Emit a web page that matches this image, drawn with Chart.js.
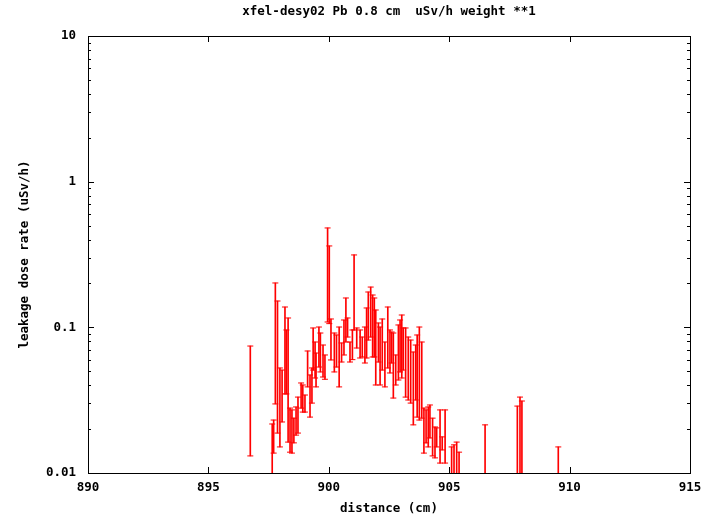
<!DOCTYPE html>
<html><head><meta charset="utf-8">
<script src="https://cdn.jsdelivr.net/npm/chart.js@4/dist/chart.umd.min.js"></script>
<style>html,body{margin:0;padding:0;background:#fff}#wrap{width:701px;height:518px;position:relative}</style>
</head><body><div id="wrap"><canvas id="c"></canvas></div>
<script>
const titleText = 'xfel-desy02 Pb 0.8 cm  uSv/h weight **1';
const xTitle = 'distance (cm)';
const yTitle = 'leakage dose rate (uSv/h)';
const xTicks = [890, 895, 900, 905, 910, 915];
const yTicks = [10, 1, 0.1, 0.01];
const yTickLabels = ['10', '1', '0.1', '0.01'];

// distance (cm) of each error bar
const positions = [
  896.74, 897.65, 897.71, 897.78, 897.87, 897.97, 898.06, 898.18, 898.24, 898.31,
  898.39, 898.47, 898.55, 898.64, 898.72, 898.85, 898.92, 899.01, 899.12, 899.22,
  899.30, 899.35, 899.43, 899.47, 899.59, 899.65, 899.76, 899.84, 899.95, 900.02,
  900.09, 900.23, 900.32, 900.43, 900.53, 900.63, 900.71, 900.78, 900.88, 900.98,
  901.05, 901.16, 901.30, 901.39, 901.50, 901.57, 901.64, 901.74, 901.82, 901.89,
  901.95, 902.06, 902.13, 902.22, 902.33, 902.45, 902.54, 902.61, 902.68, 902.78,
  902.89, 902.96, 903.03, 903.09, 903.19, 903.30, 903.40, 903.51, 903.61, 903.67,
  903.76, 903.86, 903.95, 904.04, 904.13, 904.20, 904.31, 904.41, 904.48, 904.62,
  904.71, 904.83, 905.10, 905.20, 905.31, 905.41, 906.49, 907.83, 907.94, 908.02,
  909.53
];
// lower end of each error bar (uSv/h)
const lows = [
  0.0131, 0.005, 0.0137, 0.0298, 0.0188, 0.0151, 0.0224, 0.0349, 0.0349, 0.0163,
  0.0139, 0.0137, 0.0161, 0.0182, 0.0188, 0.0279, 0.0262, 0.0262, 0.0390, 0.0242,
  0.0302, 0.0509, 0.0449, 0.0390, 0.0534, 0.0494, 0.0456, 0.0440, 0.1088, 0.1060,
  0.0597, 0.0494, 0.0534, 0.0390, 0.0578, 0.0646, 0.0793, 0.0858, 0.0578, 0.0600,
  0.0959, 0.0721, 0.0616, 0.0626, 0.0569, 0.0616, 0.0818, 0.0858, 0.0626, 0.0626,
  0.0402, 0.0578, 0.0402, 0.0509, 0.0390, 0.0526, 0.0486, 0.0569, 0.0327, 0.0402,
  0.0435, 0.0494, 0.0449, 0.0509, 0.0332, 0.0317, 0.0302, 0.0214, 0.0317, 0.0242,
  0.0231, 0.0238, 0.0137, 0.0161, 0.0151, 0.0174, 0.0131, 0.0127, 0.0151, 0.0117,
  0.0144, 0.0117, 0.005, 0.005, 0.005, 0.005, 0.005, 0.005, 0.005, 0.005,
  0.005
];
// upper end of each error bar (uSv/h)
const highs = [
  0.0744, 0.0217, 0.0231, 0.2016, 0.1516, 0.0526, 0.0509, 0.1379, 0.0959, 0.1159,
  0.0279, 0.0271, 0.0238, 0.0284, 0.0332, 0.0415, 0.0402, 0.0343, 0.0688, 0.0471,
  0.0526, 0.0990, 0.0793, 0.0666, 0.1005, 0.0914, 0.0756, 0.0646, 0.4810, 0.3620,
  0.1141, 0.0914, 0.0886, 0.1005, 0.0781, 0.1123, 0.1590, 0.1159, 0.0793, 0.0959,
  0.3140, 0.0990, 0.0959, 0.0858, 0.1005, 0.1358, 0.1748, 0.1890, 0.1667, 0.1590,
  0.1315, 0.1071, 0.1005, 0.1141, 0.0793, 0.1379, 0.0959, 0.0929, 0.0914, 0.0646,
  0.1038, 0.1123, 0.1215, 0.0990, 0.0990, 0.0858, 0.0818, 0.0677, 0.0756, 0.0886,
  0.1005, 0.0793, 0.0279, 0.0271, 0.0284, 0.0293, 0.0238, 0.0207, 0.0204, 0.0271,
  0.0177, 0.0271, 0.0151, 0.0156, 0.0163, 0.0139, 0.0214, 0.0288, 0.0332, 0.0312,
  0.0151
];

const RED = 'rgb(255,0,0)';
const FONT = {family: '"DejaVu Sans Mono", monospace', size: 12.5, weight: 'bold'};

const framePlugin = {
  id: 'frame',
  afterDatasetsDraw(chart) {
    const {ctx, chartArea: a, scales: {x, y}} = chart;
    ctx.save();
    ctx.strokeStyle = '#000';
    ctx.lineWidth = 1;
    ctx.beginPath();
    xTicks.forEach(v => {
      const px = Math.round(x.getPixelForValue(v)) + 0.5;
      ctx.moveTo(px, a.bottom); ctx.lineTo(px, a.bottom - 6);
      ctx.moveTo(px, a.top); ctx.lineTo(px, a.top + 6);
    });
    const minExp = Math.round(Math.log10(y.min)), maxExp = Math.round(Math.log10(y.max));
    for (let e = minExp; e <= maxExp; e++) {
      for (let m = 1; m <= 9; m++) {
        const v = m * Math.pow(10, e);
        if (v > y.max * 1.0001) break;
        const len = m === 1 ? 6 : 3;
        const py = Math.round(y.getPixelForValue(v)) + 0.5;
        ctx.moveTo(a.left, py); ctx.lineTo(a.left + len, py);
        ctx.moveTo(a.right, py); ctx.lineTo(a.right - len, py);
      }
    }
    ctx.stroke();
    ctx.strokeRect(Math.round(a.left) + 0.5, Math.round(a.top) + 0.5,
                   Math.round(a.right - a.left), Math.round(a.bottom - a.top));
    ctx.fillStyle = '#000';
    ctx.font = 'bold 12.5px "DejaVu Sans Mono", monospace';
    ctx.textAlign = 'center';
    ctx.textBaseline = 'middle';
    ctx.fillText(titleText, (a.left + a.right) / 2, 12);
    ctx.restore();
  }
};

new Chart(document.getElementById('c'), {
  type: 'bar',
  data: {
    datasets: [
      {
        type: 'bar',
        data: positions.map((p, i) => ({x: p, y: [lows[i], highs[i]]})),
        backgroundColor: RED,
        borderWidth: 0,
        barThickness: 1,
        clip: 0
      },
      {
        type: 'line',
        data: positions.map((p, i) => ({x: p, y: highs[i]})),
        showLine: false,
        pointStyle: 'line',
        pointRadius: 3,
        pointHoverRadius: 3,
        borderColor: RED,
        backgroundColor: RED,
        borderWidth: 1,
        clip: 0
      },
      {
        type: 'line',
        data: positions.map((p, i) => ({x: p, y: lows[i]})),
        showLine: false,
        pointStyle: 'line',
        pointRadius: 3,
        pointHoverRadius: 3,
        borderColor: RED,
        backgroundColor: RED,
        borderWidth: 1,
        clip: 0
      }
    ]
  },
  options: {
    responsive: true,
    maintainAspectRatio: false,
    animation: false,
    events: [],
    layout: {padding: {top: 36, left: 0, right: 11, bottom: 0}},
    plugins: {legend: {display: false}, tooltip: {enabled: false}, title: {display: false}},
    scales: {
      x: {
        type: 'linear',
        min: 890, max: 915,
        offset: false,
        grid: {display: false, drawTicks: false},
        border: {display: false},
        afterBuildTicks: s => { s.ticks = xTicks.map(v => ({value: v})); },
        ticks: {color: '#000', font: FONT, padding: 7, maxRotation: 0, autoSkip: false,
                callback: v => String(v)},
        title: {display: true, text: xTitle, color: '#000', font: FONT, padding: {top: 0, bottom: 1.5}},
        afterFit: s => { s.height = 45; s.paddingRight = 0; s.paddingLeft = 0; }
      },
      y: {
        type: 'logarithmic',
        min: 0.01, max: 10,
        grid: {display: false, drawTicks: false},
        border: {display: false},
        afterBuildTicks: s => { s.ticks = yTicks.map(v => ({value: v})); },
        ticks: {color: '#000', font: FONT, padding: 12, autoSkip: false,
                callback: (v) => yTickLabels[yTicks.indexOf(v)] ?? ''},
        title: {display: true, text: yTitle, color: '#000', font: FONT, padding: {top: 17.5, bottom: 0}},
        afterFit: s => { s.width = 88; s.paddingTop = 0; s.paddingBottom = 0; }
      }
    }
  },
  plugins: [framePlugin]
});
</script>
</body></html>
